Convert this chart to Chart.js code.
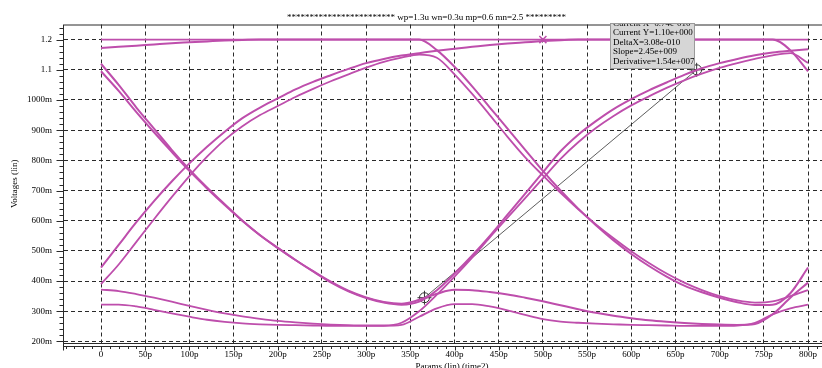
<!DOCTYPE html>
<html><head><meta charset="utf-8">
<script src="https://cdn.jsdelivr.net/npm/chart.js@4.4.1/dist/chart.umd.min.js"></script>
<style>
html,body{margin:0;padding:0;background:#fff;overflow:hidden;}
#wrap{width:822px;height:368px;overflow:hidden;position:relative;background:#fff;}
canvas{display:block;}
</style></head><body>
<div id="wrap"><canvas id="c" width="840" height="376" style="width:840px;height:376px"></canvas></div>
<script>
// ---- text ----
const chartTitle = '************************ wp=1.3u wn=0.3u mp=0.6 mn=2.5 *********';
const xTitle = 'Params (lin) (time2)';
const yTitle = 'Voltages (lin)';
const cursorReadout = ['Current X=6.74e-010','Current Y=1.10e+000','DeltaX=3.08e-010','Slope=2.45e+009','Derivative=1.54e+007'];

// ---- ticks ----
const xTickValues = [0,50,100,150,200,250,300,350,400,450,500,550,600,650,700,750,800];
const yTickValues = [0.2,0.3,0.4,0.5,0.6,0.7,0.8,0.9,1.0,1.1,1.2];

// ---- data (time in ps, voltage in V) ----
const times = [0,20,40,60,80,100,120,140,160,180,200,220,240,260,280,300,320,340,360,380,400,420,440,460,480,500,520,540,560,580,600,620,640,660,680,700,720,740,760,780,800];

const supplyTimes = [0, 800];
const supplyV = [1.2, 1.2];

const topFall = [1.172,1.176,1.18,1.184,1.188,1.191,1.194,1.197,1.199,1.2,
  1.2,1.2,1.2,1.2,1.2,1.2,1.2,1.2,
  1.2,1.165,1.11,1.045,0.975,0.905,0.835,0.765,
  0.7,0.64,0.585,0.535,0.49,0.45,0.415,0.385,0.363,0.345,0.33,0.321,0.322,0.36,0.445];

const fallRiseA = [1.12,1.05,0.975,0.905,0.835,0.77,0.71,0.655,0.6,0.552,
  0.51,0.47,0.432,0.396,0.366,0.344,0.329,0.322,
  0.332,0.37,0.425,0.485,0.55,0.62,0.69,0.76,
  0.83,0.885,0.93,0.97,1.003,1.032,1.058,1.083,1.105,1.122,1.136,1.148,1.157,1.163,1.168];

const fallBumpB = [1.095,1.03,0.96,0.893,0.828,0.765,0.707,0.652,0.6,0.552,
  0.51,0.47,0.433,0.398,0.368,0.346,0.331,0.325,
  0.338,0.358,0.371,0.37,0.364,0.356,0.345,0.333,
  0.32,0.307,0.295,0.285,0.277,0.27,0.265,0.261,0.258,0.256,0.255,0.258,0.29,0.345,0.395];

const riseHighA = [0.445,0.52,0.595,0.665,0.73,0.79,0.845,0.895,0.94,0.975,
  1.005,1.035,1.06,1.082,1.103,1.122,1.136,1.147,
  1.155,1.163,1.17,1.176,1.182,1.187,1.191,1.195,
  1.198,1.2,1.2,1.2,1.2,1.2,1.2,1.2,1.2,1.2,1.2,1.2,1.2,1.165,1.095];

const riseFallB = [0.39,0.455,0.53,0.605,0.678,0.748,0.812,0.868,0.913,0.95,
  0.98,1.01,1.037,1.062,1.085,1.107,1.126,1.14,
  1.15,1.14,1.085,1.02,0.95,0.878,0.81,0.75,
  0.692,0.638,0.588,0.542,0.499,0.46,0.425,0.395,0.37,0.35,0.336,0.329,0.333,0.35,0.37];

const lowRiseB = [0.372,0.367,0.357,0.345,0.332,0.318,0.305,0.293,0.283,0.275,
  0.268,0.263,0.259,0.256,0.254,0.253,0.253,0.262,
  0.3,0.355,0.415,0.478,0.545,0.61,0.675,0.74,
  0.805,0.86,0.907,0.947,0.982,1.012,1.04,1.065,1.087,1.106,1.122,1.136,1.148,1.155,1.123];

const bumpLow = [0.322,0.322,0.316,0.305,0.293,0.282,0.272,0.265,0.26,0.257,
  0.255,0.254,0.253,0.252,0.252,0.252,0.252,0.255,
  0.282,0.31,0.324,0.324,0.316,0.303,0.288,0.274,
  0.266,0.262,0.259,0.257,0.255,0.254,0.253,0.252,0.252,0.252,0.253,0.262,0.29,0.31,0.322];

// cursors (from readout)
const cursorT = [366, 674];
const cursorV = [0.345, 1.10];
const markT = [500];
const markV = [1.2];

// ---- chart ----
const MAG = 'rgb(190,78,172)';
const INK = '#2a2a2a';
const X_MIN = -41.87, X_MAX = 836.2;
const Y_MIN = 0.195, Y_MAX = 1.25;

function pts(ts, vs){ return ts.map((t,i)=>({x:t, y:vs[i]})); }
function trace(ts, vs, w){
  return {data: pts(ts, vs), borderColor: MAG, backgroundColor: MAG, borderWidth: w || 2,
          pointRadius: 0, cubicInterpolationMode: 'monotone', fill: false};
}

Chart.defaults.font.family = '"Liberation Serif", "Times New Roman", serif';
Chart.defaults.font.size = 9;
Chart.defaults.color = '#000';

const decorPlugin = {
  id: 'decor',
  beforeDatasetsDraw(chart){
    const {ctx, chartArea: a, scales: {x, y}} = chart;
    ctx.save();
    ctx.strokeStyle = INK; ctx.lineWidth = 1;
    ctx.beginPath();
    ctx.moveTo(a.left, a.top + 0.5); ctx.lineTo(a.right, a.top + 0.5);
    ctx.moveTo(a.left, a.bottom + 0.5); ctx.lineTo(a.right, a.bottom + 0.5);
    ctx.moveTo(a.left - 0.5, a.top); ctx.lineTo(a.left - 0.5, a.bottom + 4);
    const ay = a.bottom + 3.5;
    ctx.moveTo(a.left, ay); ctx.lineTo(a.right, ay);
    ctx.moveTo(a.left - 0.5, ay); ctx.lineTo(a.left - 0.5, ay + 4);
    for (let t = -40; t <= 830; t += 10) {
      const px = Math.round(x.getPixelForValue(t)) + 0.5;
      if (px < a.left + 1 || px > a.right) continue;
      const major = (t % 50 === 0);
      ctx.moveTo(px, ay); ctx.lineTo(px, ay + (major ? 4 : 2.5));
    }
    for (let k = 10; k <= 62; k++) {
      const v = k * 0.02;
      const py = Math.round(y.getPixelForValue(v)) + 0.5;
      if (py < a.top || py > a.bottom + 1) continue;
      const major = (k % 5 === 0);
      ctx.moveTo(a.left - 0.5, py); ctx.lineTo(a.left - (major ? 7.5 : 4.5), py);
    }
    ctx.stroke();
    ctx.restore();
  },
  afterDatasetsDraw(chart){
    const {ctx, chartArea: a, scales: {x, y}} = chart;
    ctx.save();
    const bx2 = Math.round(x.getPixelForValue(cursorT[1])) - 2;
    const by2 = Math.round(y.getPixelForValue(cursorV[1])) - 1;
    const bw = 85, bx1 = bx2 - bw, by1 = Math.round(a.top) - 2;
    ctx.fillStyle = '#d6d6d6';
    ctx.fillRect(bx1, by1, bw, by2 - by1);
    ctx.strokeStyle = '#9a9a9a'; ctx.lineWidth = 1;
    ctx.strokeRect(bx1 + 0.5, by1 + 0.5, bw - 1, by2 - by1 - 1);
    ctx.beginPath(); ctx.rect(bx1 + 1, by1 + 1, bw - 2, by2 - by1 - 2); ctx.clip();
    ctx.fillStyle = '#000';
    ctx.font = '9px "Liberation Serif"';
    ctx.textBaseline = 'middle'; ctx.textAlign = 'left';
    cursorReadout.forEach((s, i) => ctx.fillText(s, bx1 + 3, by1 + 0.5 + i * 9.5));
    ctx.restore();
  },
  afterDraw(chart){
    const {ctx} = chart;
    ctx.save();
    ctx.fillStyle = '#000';
    ctx.font = '9px "Liberation Serif"';
    ctx.textBaseline = 'middle'; ctx.textAlign = 'left';
    ctx.fillText(chartTitle, 287, 17.5);
    ctx.restore();
  }
};

new Chart(document.getElementById('c'), {
  type: 'line',
  data: {
    datasets: [
      trace(supplyTimes, supplyV, 1.6),
      trace(times, bumpLow, 1.8),
      trace(times, lowRiseB, 1.8),
      trace(times, fallBumpB, 2),
      trace(times, fallRiseA, 2),
      trace(times, riseFallB, 1.8),
      trace(times, riseHighA, 2),
      trace(times, topFall, 2),
      {data: pts(cursorT, cursorV), borderColor: '#333', borderWidth: 0.8, pointRadius: 0, fill: false, tension: 0},
      {data: pts(cursorT, cursorV), showLine: false, pointStyle: 'circle', pointRadius: 5,
       pointBorderColor: '#333', pointBackgroundColor: 'rgba(0,0,0,0)', pointBorderWidth: 1},
      {data: pts(cursorT, cursorV), showLine: false, pointStyle: 'cross', pointRadius: 7,
       pointBorderColor: '#333', pointBorderWidth: 1},
      {data: pts(markT, markV), showLine: false, pointStyle: 'crossRot', pointRadius: 5,
       pointBorderColor: MAG, pointBorderWidth: 1.5}
    ]
  },
  options: {
    responsive: false, animation: false, events: [], devicePixelRatio: 1,
    layout: {autoPadding: false, padding: {top: 24.5, left: 0, right: 0, bottom: 0}},
    plugins: {legend: {display: false}, tooltip: {enabled: false}, title: {display: false}},
    scales: {
      x: {
        type: 'linear', min: X_MIN, max: X_MAX, offset: false,
        afterBuildTicks: s => { s.ticks = xTickValues.map(v => ({value: v})); },
        afterFit: s => { s.height = 33; s.paddingLeft = 0; s.paddingRight = 0; },
        ticks: {callback: v => v === 0 ? '0' : v + 'p', padding: 6, maxRotation: 0, autoSkip: false, color: '#000', font: {size: 9}},
        grid: {color: INK, lineWidth: 1, drawTicks: false},
        border: {display: false, dash: [4, 3]},
        title: {display: true, text: xTitle, color: '#000', font: {size: 9}, padding: {top: 0, bottom: 4}}
      },
      y: {
        type: 'linear', min: Y_MIN, max: Y_MAX,
        afterBuildTicks: s => { s.ticks = yTickValues.map(v => ({value: v})); },
        afterFit: s => { s.width = 64; s.paddingTop = 0; s.paddingBottom = 0; },
        ticks: {callback: v => v >= 1.05 ? v.toFixed(1) : Math.round(v * 1000) + 'm', padding: 12, autoSkip: false, color: '#000', font: {size: 9}},
        grid: {color: INK, lineWidth: 1, drawTicks: false},
        border: {display: false, dash: [4, 3]},
        title: {display: true, text: yTitle, color: '#000', font: {size: 9}, padding: {top: 9.5, bottom: 0}}
      }
    }
  },
  plugins: [decorPlugin]
});
</script>
</body></html>
